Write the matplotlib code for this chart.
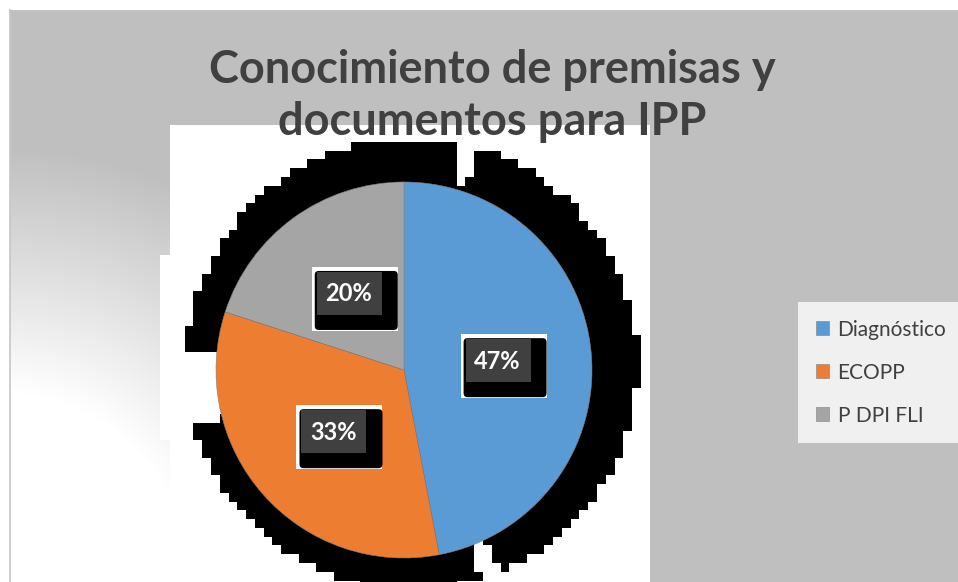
import numpy as np
import matplotlib.pyplot as plt
from matplotlib.patches import Rectangle, FancyBboxPatch

labels = ["Diagnóstico", "ECOPP", "P DPI FLI"]
values = [47, 33, 20]
colors = ["#5b9bd5", "#ed7d31", "#a5a5a5"]
title_lines = ["Conocimiento de premisas y", "documentos para IPP"]

W, H = 958, 582
plt.rcParams["font.family"] = ["Lato", "DejaVu Sans"]
fig = plt.figure(figsize=(W / 100, H / 100), dpi=100)

# background: gray with a light corner at lower left, white plot area
bg = fig.add_axes([0, 0, 1, 1])
yy, xx = np.mgrid[0:H, 0:W]
d = np.hypot(xx, H - yy)
v = np.clip(255 - (d - 190) * 0.26, 191, 255) / 255
img = np.dstack([v, v, v])
img[:10, :] = 1
img[:, :10] = 1
bg.imshow(img, extent=(0, W, H, 0), interpolation="bilinear", aspect="auto")
bg.plot([10.5, 10.5], [10, H], color="#c6c6c6", lw=1.2)
bg.plot([10, W], [10.5, 10.5], color="#c6c6c6", lw=1.2)
bg.add_patch(Rectangle((170, 125), 480, H - 125, color="white", lw=0))
bg.add_patch(Rectangle((160, 255), 12, 185, color="white", lw=0))
bg.set_xlim(0, W)
bg.set_ylim(H, 0)
bg.axis("off")

# pie axes: 1 data unit = R pixels
R = 188
cx, cy, half = 404, 370, 260
ax = fig.add_axes([(cx - half) / W, (H - cy - half) / H, 2 * half / W, 2 * half / H])

# blocky black shadow behind the pie
n, lim = 60, 1.4
e = np.linspace(-lim, lim, n + 1)
c = (e[:-1] + e[1:]) / 2
X, Y = np.meshgrid(c, c)
sx, sy, sr = 8 / R, 6 / R, 226 / R
rr = np.hypot(X - sx, Y - sy)
ang = np.degrees(np.arctan2(Y - sy, X - sx)) % 360
mask = rr <= sr
for a0, a1 in [(176, 196), (288, 293), (73, 78)]:
    mask &= ~((ang >= a0) & (ang <= a1) & (rr > 1.0))
rgba = np.zeros((n, n, 4))
rgba[..., 3] = mask
ax.imshow(rgba, extent=(-lim, lim, -lim, lim), origin="lower",
          interpolation="nearest", zorder=0)

wedges, texts, autotexts = ax.pie(
    values, colors=colors, startangle=90, counterclock=False,
    autopct="%1.0f%%", pctdistance=0.5,
    wedgeprops=dict(edgecolor="#7f7f7f", linewidth=0.4),
    textprops=dict(color="white", fontsize=17, fontweight="bold"))

for t in autotexts:
    t.set_zorder(6)
    tx, ty = t.get_position()
    ax.add_patch(Rectangle((tx - 37 / R, ty - 37 / R), 86 / R, 64 / R,
                           color="white", lw=0, zorder=3))
    ax.add_patch(FancyBboxPatch((tx - 30 / R, ty - 32 / R), 75 / R, 51 / R,
                                boxstyle=f"round,pad={4 / R}", color="black",
                                lw=0, zorder=4))
    ax.add_patch(Rectangle((tx - 32 / R, ty - 21 / R), 65 / R, 43 / R,
                           color="#404040", lw=0, zorder=5))

ax.set_xlim(-half / R, half / R)
ax.set_ylim(-half / R, half / R)
ax.axis("off")

for i, line in enumerate(title_lines):
    fig.text(492 / W, 1 - (83 + 52 * i) / H, line, ha="center", va="baseline",
             fontsize=32.5, fontweight="bold", color="#404040")

fig.legend(wedges, labels, loc="upper left", bbox_to_anchor=(798 / W, 1 - 302 / H),
           frameon=True, fancybox=False, facecolor="#f0f0f0", edgecolor="none",
           framealpha=1, fontsize=15, labelcolor="#404040",
           handlelength=0.65, handleheight=0.65, handletextpad=0.4,
           labelspacing=1.1, borderpad=0.85, borderaxespad=0)

fig.savefig("out.png", dpi=100)
